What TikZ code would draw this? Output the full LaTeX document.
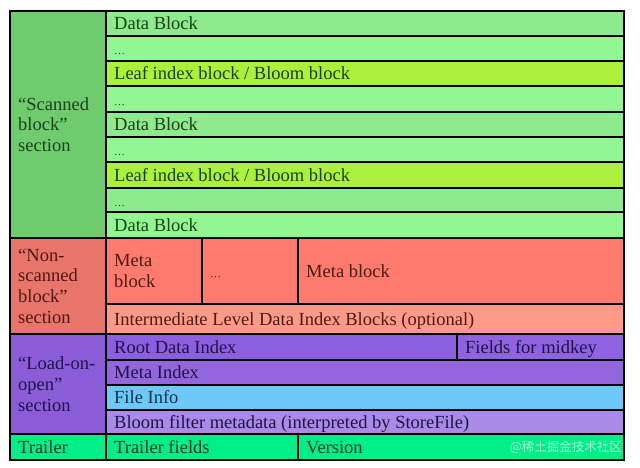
\documentclass[tikz,border=0pt]{standalone}
\usepackage{fontspec}
\setmainfont{Liberation Serif}
\newfontfamily\cjk{Noto Sans CJK SC}
\definecolor{scanL}{HTML}{6ECC6E}
\definecolor{dataB}{HTML}{8DEA8D}
\definecolor{dotB}{HTML}{92F792}
\definecolor{leafB}{HTML}{AAF03C}
\definecolor{nonL}{HTML}{E8746A}
\definecolor{metaB}{HTML}{FF7B6D}
\definecolor{interB}{HTML}{FF9A88}
\definecolor{loadL}{HTML}{8A5CD8}
\definecolor{rootB}{HTML}{8C5EE0}
\definecolor{midB}{HTML}{8E62E0}
\definecolor{metaI}{HTML}{9466DE}
\definecolor{fileB}{HTML}{6EC8F5}
\definecolor{bloomB}{HTML}{A98AE6}
\definecolor{trailB}{HTML}{00EE8A}
\definecolor{tGreen}{HTML}{1C401C}
\definecolor{tRed}{HTML}{4A1C16}
\definecolor{tPurple}{HTML}{1E1446}
\definecolor{tBlue}{HTML}{10304A}
\definecolor{tTrail}{HTML}{0A3A1E}
\definecolor{wmark}{HTML}{B0F0CC}
\newcommand\smalldots{{\fontsize{11}{12}\selectfont …}}
\begin{document}
\begin{tikzpicture}[x=1pt,y=-1pt,
  cell/.style={draw=black,line width=1.6pt,anchor=north west,inner sep=0pt,outer sep=0pt},
  txt/.style={anchor=base west,inner sep=0pt,font=\fontsize{18.5}{21}\selectfont},
  mtxt/.style={anchor=west,inner sep=0pt,align=left,font=\fontsize{18.5}{20.7}\selectfont}]
\fill[white] (0,0) rectangle (640,467);
\useasboundingbox (0,0) rectangle (640,467);
% scanned section
\node[cell,fill=scanL,minimum width=96pt,minimum height=227pt] (scan) at (10,11) {};
\node[mtxt,text=tGreen] (scan-t) at ([xshift=8pt]scan.west) {“Scanned\\block”\\section};
\node[cell,fill=dataB,minimum width=518pt,minimum height=25pt] (r1) at (106,11) {};
\node[txt,text=tGreen] (r1-t) at ([xshift=8pt,yshift=-6pt]r1.west) {Data Block};
\node[cell,fill=dotB,minimum width=518pt,minimum height=25pt] (r2) at (106,36) {};
\node[txt,text=tGreen] (r2-t) at ([xshift=8pt,yshift=-6pt]r2.west) {\smalldots};
\node[cell,fill=leafB,minimum width=518pt,minimum height=25pt] (r3) at (106,61) {};
\node[txt,text=tGreen] (r3-t) at ([xshift=8pt,yshift=-6pt]r3.west) {Leaf index block / Bloom block};
\node[cell,fill=dotB,minimum width=518pt,minimum height=26pt] (r4) at (106,86) {};
\node[txt,text=tGreen] (r4-t) at ([xshift=8pt,yshift=-6pt]r4.west) {\smalldots};
\node[cell,fill=dataB,minimum width=518pt,minimum height=25pt] (r5) at (106,112) {};
\node[txt,text=tGreen] (r5-t) at ([xshift=8pt,yshift=-6pt]r5.west) {Data Block};
\node[cell,fill=dotB,minimum width=518pt,minimum height=25pt] (r6) at (106,137) {};
\node[txt,text=tGreen] (r6-t) at ([xshift=8pt,yshift=-6pt]r6.west) {\smalldots};
\node[cell,fill=leafB,minimum width=518pt,minimum height=26pt] (r7) at (106,162) {};
\node[txt,text=tGreen] (r7-t) at ([xshift=8pt,yshift=-6pt]r7.west) {Leaf index block / Bloom block};
\node[cell,fill=dataB,minimum width=518pt,minimum height=24pt] (r8) at (106,188) {};
\node[txt,text=tGreen] (r8-t) at ([xshift=8pt,yshift=-6pt]r8.west) {\smalldots};
\node[cell,fill=dotB,minimum width=518pt,minimum height=26pt] (r9) at (106,212) {};
\node[txt,text=tGreen] (r9-t) at ([xshift=8pt,yshift=-6pt]r9.west) {Data Block};
% non-scanned section
\node[cell,fill=nonL,minimum width=96pt,minimum height=96pt] (non) at (10,238) {};
\node[mtxt,text=tRed] (non-t) at ([xshift=8pt]non.west) {“Non-\\scanned\\block”\\section};
\node[cell,fill=metaB,minimum width=96pt,minimum height=66pt] (m1) at (106,238) {};
\node[mtxt,text=tRed] (m1-t) at ([xshift=8pt]m1.west) {Meta\\block};
\node[cell,fill=metaB,minimum width=96pt,minimum height=66pt] (m2) at (202,238) {};
\node[txt,text=tRed] (m2-t) at ([xshift=8pt,yshift=-6pt]m2.west) {\smalldots};
\node[cell,fill=metaB,minimum width=326pt,minimum height=66pt] (m3) at (298,238) {};
\node[txt,text=tRed] (m3-t) at ([xshift=8pt,yshift=-6pt]m3.west) {Meta block};
\node[cell,fill=interB,minimum width=518pt,minimum height=30pt] (inter) at (106,304) {};
\node[txt,text=tRed] (inter-t) at ([xshift=8pt,yshift=-6pt]inter.west) {Intermediate Level Data Index Blocks (optional)};
% load-on-open section
\node[cell,fill=loadL,minimum width=96pt,minimum height=100pt] (load) at (10,334) {};
\node[mtxt,text=tPurple] (load-t) at ([xshift=8pt]load.west) {“Load-on-\\open”\\section};
\node[cell,fill=rootB,minimum width=351pt,minimum height=26pt] (root) at (106,334) {};
\node[txt,text=tPurple] (root-t) at ([xshift=8pt,yshift=-6pt]root.west) {Root Data Index};
\node[cell,fill=midB,minimum width=167pt,minimum height=26pt] (mid) at (457,334) {};
\node[txt,text=tPurple] (mid-t) at ([xshift=8pt,yshift=-6pt]mid.west) {Fields for midkey};
\node[cell,fill=metaI,minimum width=518pt,minimum height=25pt] (midx) at (106,360) {};
\node[txt,text=tPurple] (midx-t) at ([xshift=8pt,yshift=-6pt]midx.west) {Meta Index};
\node[cell,fill=fileB,minimum width=518pt,minimum height=25pt] (file) at (106,385) {};
\node[txt,text=tBlue] (file-t) at ([xshift=8pt,yshift=-6pt]file.west) {File Info};
\node[cell,fill=bloomB,minimum width=518pt,minimum height=24pt] (bloom) at (106,410) {};
\node[txt,text=tPurple] (bloom-t) at ([xshift=8pt,yshift=-6pt]bloom.west) {Bloom filter metadata (interpreted by StoreFile)};
% trailer
\node[cell,fill=trailB,minimum width=96pt,minimum height=26pt] (trl) at (10,434) {};
\node[txt,text=tTrail] (trl-t) at ([xshift=8pt,yshift=-6pt]trl.west) {Trailer};
\node[cell,fill=trailB,minimum width=192pt,minimum height=26pt] (tf) at (106,434) {};
\node[txt,text=tTrail] (tf-t) at ([xshift=8pt,yshift=-6pt]tf.west) {Trailer fields};
\node[cell,fill=trailB,minimum width=326pt,minimum height=26pt] (ver) at (298,434) {};
\node[txt,text=tTrail] (ver-t) at ([xshift=8pt,yshift=-6pt]ver.west) {Version};
\node[anchor=east,inner sep=0pt,text=wmark,font=\cjk\fontsize{12.5}{14}\selectfont] (wm) at ([xshift=-2pt]ver.east) {@稀土掘金技术社区};
\end{tikzpicture}
\end{document}
